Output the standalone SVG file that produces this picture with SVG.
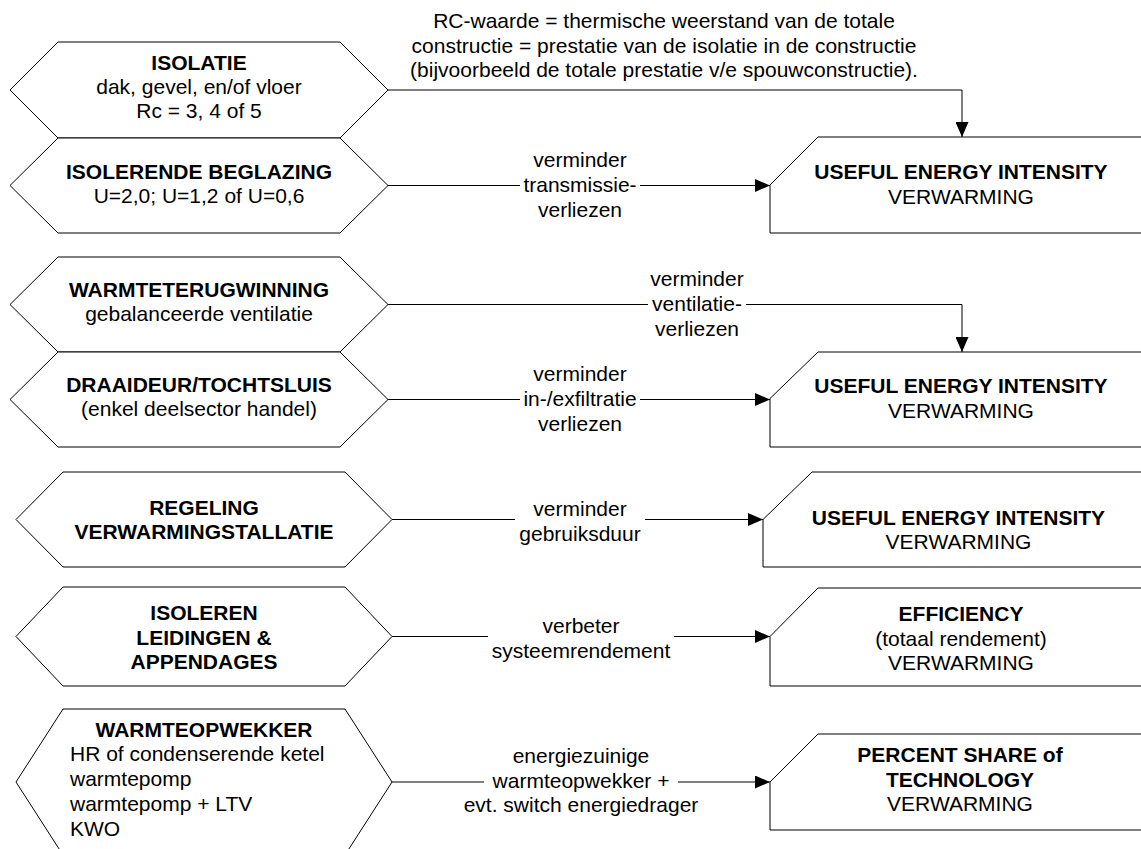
<svg xmlns="http://www.w3.org/2000/svg" width="1141" height="849" viewBox="0 0 1141 849">
  <style>
    .shape { fill: #ffffff; stroke: #000000; stroke-width: 1; }
    .wire { fill: none; stroke: #000000; stroke-width: 1; marker-end: url(#arrow); }
    .gap { fill: #ffffff; stroke: none; }
    text { font-family: "Liberation Sans", Arial, sans-serif; font-size: 21px; fill: #000000; }
    .b { font-weight: bold; }
    .c { text-anchor: middle; }
  </style>
  <defs>
    <marker id="arrow" markerUnits="userSpaceOnUse" markerWidth="15" markerHeight="13" refX="15" refY="6.5" orient="auto">
      <path d="M0,0 L15,6.5 L0,13 z" fill="#000000"/>
    </marker>
  </defs>

  <rect width="1141" height="849" fill="#ffffff"/>

  <!-- measures (left column) -->
  <g id="isolatie">
    <polygon class="shape" points="10,90 58,42 340,42 388,90 340,138 58,138"/>
    <text class="c b" x="199" y="69.5">ISOLATIE</text>
    <text class="c" x="199" y="94">dak, gevel, en/of vloer</text>
    <text class="c" x="199" y="118">Rc = 3, 4 of 5</text>
  </g>
  <g id="beglazing">
    <polygon class="shape" points="10,185.5 58,138 340,138 388,185.5 340,233 58,233"/>
    <text class="c b" x="199" y="178.5">ISOLERENDE BEGLAZING</text>
    <text class="c" x="199" y="202.5">U=2,0; U=1,2 of U=0,6</text>
  </g>
  <g id="warmteterugwinning">
    <polygon class="shape" points="10,304.5 58,257 340,257 388,304.5 340,352 58,352"/>
    <text class="c b" x="199" y="297">WARMTETERUGWINNING</text>
    <text class="c" x="199" y="321">gebalanceerde ventilatie</text>
  </g>
  <g id="draaideur">
    <polygon class="shape" points="10,399.5 58,352 340,352 388,399.5 340,447 58,447"/>
    <text class="c b" x="199" y="392">DRAAIDEUR/TOCHTSLUIS</text>
    <text class="c" x="199" y="416">(enkel deelsector handel)</text>
  </g>
  <g id="regeling">
    <polygon class="shape" points="16,519.5 63,472 345,472 392,519.5 345,567 63,567"/>
    <text class="c b" x="204" y="515">REGELING</text>
    <text class="c b" x="204" y="539">VERWARMINGSTALLATIE</text>
  </g>
  <g id="leidingen">
    <polygon class="shape" points="16,636.5 63,587 345,587 392,636.5 345,686 63,686"/>
    <text class="c b" x="204" y="620">ISOLEREN</text>
    <text class="c b" x="204" y="644.5">LEIDINGEN &amp;</text>
    <text class="c b" x="204" y="669">APPENDAGES</text>
  </g>
  <g id="warmteopwekker">
    <polygon class="shape" points="16,782 63,709 345,709 392,782 345,855 63,855"/>
    <text class="c b" x="204" y="737">WARMTEOPWEKKER</text>
    <text x="70" y="760.5">HR of condenserende ketel</text>
    <text x="70" y="785.5">warmtepomp</text>
    <text x="70" y="811">warmtepomp + LTV</text>
    <text x="70" y="836">KWO</text>
  </g>

  <!-- indicators (right column) -->
  <g id="intensiteit-1">
    <polygon class="shape" points="770,185 818,137 1150,137 1150,233 770,233"/>
    <text class="c b" x="961" y="179">USEFUL ENERGY INTENSITY</text>
    <text class="c" x="961" y="204">VERWARMING</text>
  </g>
  <g id="intensiteit-2">
    <polygon class="shape" points="770,398.5 818,352 1150,352 1150,447 770,447"/>
    <text class="c b" x="961" y="393">USEFUL ENERGY INTENSITY</text>
    <text class="c" x="961" y="418">VERWARMING</text>
  </g>
  <g id="intensiteit-3">
    <polygon class="shape" points="763,519.5 812,472 1150,472 1150,567 763,567"/>
    <text class="c b" x="958.5" y="525">USEFUL ENERGY INTENSITY</text>
    <text class="c" x="958.5" y="548.5">VERWARMING</text>
  </g>
  <g id="efficiency">
    <polygon class="shape" points="770,636.5 818,588 1150,588 1150,686 770,686"/>
    <text class="c b" x="961" y="621">EFFICIENCY</text>
    <text class="c" x="961" y="645.5">(totaal rendement)</text>
    <text class="c" x="961" y="670">VERWARMING</text>
  </g>
  <g id="technologie">
    <polygon class="shape" points="770,782 818,734 1150,734 1150,830 770,830"/>
    <text class="c b" x="960" y="762">PERCENT SHARE of</text>
    <text class="c b" x="960" y="786.5">TECHNOLOGY</text>
    <text class="c" x="960" y="811">VERWARMING</text>
  </g>

  <!-- connectors with their labels -->
  <g id="connectors">
    <path class="wire" d="M388,90 H962 V137"/>
    <text class="c" x="664" y="28">RC-waarde = thermische weerstand van de totale</text>
    <text class="c" x="664" y="52.5">constructie = prestatie van de isolatie in de constructie</text>
    <text class="c" x="664" y="77">(bijvoorbeeld de totale prestatie v/e spouwconstructie).</text>

    <path class="wire" d="M388,185.5 H770"/>
    <rect class="gap" x="520" y="176" width="120" height="18"/>
    <text class="c" x="580" y="167">verminder</text>
    <text class="c" x="580" y="192">transmissie-</text>
    <text class="c" x="580" y="217">verliezen</text>

    <path class="wire" d="M388,304.5 H962 V352"/>
    <rect class="gap" x="648" y="295" width="98" height="18"/>
    <text class="c" x="697" y="285.5">verminder</text>
    <text class="c" x="697" y="310.5">ventilatie-</text>
    <text class="c" x="697" y="335.5">verliezen</text>

    <path class="wire" d="M388,399.5 H770"/>
    <rect class="gap" x="520" y="390" width="120" height="18"/>
    <text class="c" x="580" y="381">verminder</text>
    <text class="c" x="580" y="406">in-/exfiltratie</text>
    <text class="c" x="580" y="431">verliezen</text>

    <path class="wire" d="M392,519.5 H763"/>
    <rect class="gap" x="515" y="512" width="130" height="16"/>
    <text class="c" x="580" y="516">verminder</text>
    <text class="c" x="580" y="540.5">gebruiksduur</text>

    <path class="wire" d="M392,636.5 H770"/>
    <rect class="gap" x="488" y="629" width="186" height="16"/>
    <text class="c" x="581" y="633">verbeter</text>
    <text class="c" x="581" y="657.5">systeemrendement</text>

    <path class="wire" d="M392,782 H770"/>
    <rect class="gap" x="484" y="772" width="194" height="18"/>
    <text class="c" x="581" y="763">energiezuinige</text>
    <text class="c" x="581" y="787.5">warmteopwekker +</text>
    <text class="c" x="581" y="812">evt. switch energiedrager</text>
  </g>
</svg>
